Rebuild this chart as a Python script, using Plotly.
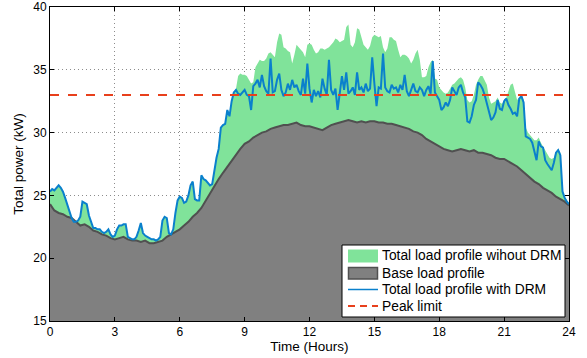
import plotly.graph_objects as go

# Base load profile, 0.2 h steps from 0 to 24 h
base_load = [
    24.3, 23.8, 23.6, 23.5, 23.3, 23.2, 22.9, 22.6, 22.7, 22.5,
    22.2, 22.1, 21.9, 21.8, 21.6, 21.5, 21.6, 21.7, 21.5, 21.4,
    21.4, 21.3, 21.4, 21.2, 21.2, 21.3, 21.4, 21.7, 21.9, 22.1,
    22.3, 22.6, 22.9, 23.3, 23.6, 24.0, 24.6, 25.2, 25.7, 26.3,
    26.8, 27.3, 27.8, 28.3, 28.7, 29.1, 29.3, 29.6, 29.8, 30.0,
    30.1, 30.3, 30.4, 30.5, 30.6, 30.6, 30.7, 30.8, 30.6, 30.5,
    30.5, 30.4, 30.3, 30.2, 30.4, 30.6, 30.7, 30.8, 30.9, 31.0,
    30.9, 30.8, 30.9, 30.8, 30.9, 30.9, 30.8, 30.8, 30.7, 30.7,
    30.6, 30.5, 30.4, 30.3, 30.1, 30.0, 29.8, 29.5, 29.3, 29.1,
    28.9, 28.7, 28.6, 28.5, 28.6, 28.7, 28.6, 28.5, 28.6, 28.4,
    28.4, 28.3, 28.2, 28.0, 27.9, 27.9, 27.7, 27.5, 27.3, 27.0,
    26.7, 26.4, 26.1, 25.9, 25.6, 25.4, 25.2, 24.9, 24.7, 24.5,
    24.2,
]

# Total load with DRM, 0.1 h steps from 0 to 24 h
with_drm = [
    25.3, 25.5, 25.4, 25.6, 25.8, 25.6, 25.3, 24.8, 24.2, 23.6,
    23.2, 22.9, 22.9, 23.0, 23.3, 24.5, 24.4, 24.3, 23.4, 22.8,
    22.4, 22.4, 22.3, 22.3, 22.1, 22.0, 22.1, 22.3, 21.9, 21.7,
    21.8, 22.3, 22.6, 22.6, 22.7, 22.7, 21.7, 21.6, 21.5, 21.5,
    21.7, 22.2, 22.8, 22.0, 21.8, 21.7, 21.6, 21.5, 21.5, 21.4,
    21.5, 21.7, 23.0, 23.3, 23.2, 22.0, 21.9, 22.3, 23.6, 24.6,
    24.9, 24.8, 24.4, 24.5, 25.0, 25.8, 26.1, 24.7, 24.6, 24.6,
    26.6, 26.3, 26.2, 26.0, 25.8, 25.9, 27.0, 28.0, 28.7, 30.4,
    30.6, 30.7, 31.8, 31.3, 32.5, 33.2, 33.4, 33.1, 33.0, 33.2,
    33.4, 33.0, 32.9, 31.8, 33.7, 33.9, 34.2, 33.6, 34.6, 33.7,
    33.3, 33.1, 35.9, 33.2, 33.3, 34.2, 34.7, 33.4, 32.9, 33.2,
    33.9, 33.4, 34.2, 33.6, 33.8, 33.3, 33.0, 34.3, 33.1, 35.5,
    33.5, 32.4, 33.4, 32.9, 33.3, 32.8, 34.3, 33.5, 33.0, 35.8,
    33.4, 33.0, 33.5, 31.8, 33.2, 34.5, 33.4, 34.8, 33.1, 33.3,
    33.6, 33.0, 34.8, 33.4, 33.6, 33.2, 33.9, 33.3, 33.5, 36.0,
    33.9, 32.1, 33.6, 33.5, 36.3, 33.6, 33.3, 33.2, 33.8, 33.5,
    33.6, 33.2, 33.8, 33.4, 34.6, 33.3, 32.9, 33.4, 33.9, 33.3,
    33.2, 33.6, 33.4, 32.9, 33.4, 33.7, 33.1, 35.7, 33.2, 32.9,
    32.6, 31.8, 32.0, 32.4, 32.1, 32.6, 33.6, 33.3, 33.0, 33.6,
    33.8, 33.2, 32.8, 30.9, 30.8, 31.3, 32.2, 32.6, 34.0, 33.8,
    33.5, 33.0, 32.3, 31.8, 31.0, 31.2, 31.6, 32.6, 31.9, 31.8,
    32.5, 32.7, 32.2, 31.9, 31.5, 31.6, 31.3, 32.7, 32.9, 32.4,
    29.7, 29.6, 29.5, 29.2, 28.4, 27.8, 29.3, 28.9, 28.8, 27.8,
    27.5, 27.2, 27.0, 27.6, 28.4, 28.6, 28.2, 25.3, 24.8, 24.5,
    24.3,
]

# Total load without DRM, 0.1 h steps from 0 to 24 h
without_drm = [
    25.3, 25.5, 25.4, 25.6, 25.8, 25.6, 25.3, 24.8, 24.2, 23.6,
    23.2, 22.9, 22.9, 23.0, 23.3, 24.5, 24.4, 24.3, 23.4, 22.8,
    22.4, 22.4, 22.3, 22.3, 22.1, 22.0, 22.1, 22.3, 21.9, 21.7,
    21.8, 22.3, 22.6, 22.6, 22.7, 22.7, 21.7, 21.6, 21.5, 21.5,
    21.7, 22.2, 22.8, 22.0, 21.8, 21.7, 21.6, 21.5, 21.5, 21.4,
    21.5, 21.7, 23.0, 23.3, 23.2, 22.0, 21.9, 22.3, 23.6, 24.6,
    24.9, 24.8, 24.4, 24.5, 25.0, 25.8, 26.1, 24.7, 24.6, 24.6,
    26.6, 26.3, 26.2, 26.0, 25.8, 25.9, 27.0, 28.0, 28.7, 30.4,
    30.6, 30.7, 31.8, 31.3, 32.5, 33.2, 33.5, 34.5, 34.7, 34.6,
    34.6, 34.5, 34.2, 33.9, 34.0, 35.2, 35.5, 35.8, 35.7, 35.7,
    35.9, 36.3, 36.4, 36.2, 36.0, 37.2, 37.9, 37.8, 36.8, 36.7,
    36.5, 36.4, 35.5, 36.2, 37.0, 36.8, 36.6, 36.4, 36.0, 37.0,
    37.1, 37.0, 36.6, 36.3, 36.4, 36.7, 36.7, 36.6, 36.7, 36.8,
    37.0, 37.2, 37.5, 37.4, 37.2, 37.3, 37.4, 38.4, 38.6, 37.0,
    36.8, 37.2, 38.3, 38.2, 37.5, 37.0, 36.8, 36.6, 36.9, 37.6,
    37.8, 37.7, 37.6, 37.7, 36.8, 36.4, 36.7, 37.6, 37.6, 37.4,
    37.3, 36.6, 36.0, 36.2, 36.2, 36.1, 35.9, 35.5, 35.8, 36.3,
    36.6, 35.8, 34.4, 34.4, 34.5, 35.2, 35.6, 35.8, 34.3, 34.2,
    33.6, 33.4, 33.2, 33.1, 33.2, 33.5, 33.8, 33.9, 34.1, 34.3,
    34.4, 34.2, 33.6, 32.6, 32.4, 32.5, 33.0, 33.8, 34.2, 34.5,
    34.5, 34.2, 33.8, 32.8, 32.3, 32.4, 32.5, 32.8, 32.4, 32.3,
    32.6, 32.8, 33.3, 33.8, 33.9, 33.2, 32.6, 32.8, 33.0, 32.6,
    30.4, 30.0, 29.8, 29.6, 29.4, 29.4, 29.6, 29.2, 28.9, 28.6,
    28.3, 28.0, 27.9, 28.0, 28.5, 28.7, 28.4, 25.5, 24.9, 24.6,
    24.4,
]

peak_limit = 33.0
x_range = [0, 24]
y_range = [15, 40]
x_ticks = [0, 3, 6, 9, 12, 15, 18, 21, 24]
y_ticks = [15, 20, 25, 30, 35, 40]
legend_labels = [
    "Total load profile wihout DRM",
    "Base load profile",
    "Total load profile with DRM",
    "Peak limit",
]

hours_base = [round(i * 0.2, 1) for i in range(len(base_load))]
hours_fine = [round(i * 0.1, 1) for i in range(len(with_drm))]

FONT = "Liberation Sans, Arial, sans-serif"
GREEN = "#80E39A"
GRAY = "#808080"
GRAY_EDGE = "#505050"
BLUE = "#0A80CC"
RED = "#E8401C"

W, H = 587, 358
ML, MR, MT, MB = 50, 18, 7, 37
PW, PH = W - ML - MR, H - MT - MB


def px(xp):
    return (xp - ML) / PW


def py(yp):
    return (H - MB - yp) / PH


fig = go.Figure()
fig.add_trace(go.Scatter(
    x=hours_fine, y=without_drm, mode="lines", fill="tozeroy",
    fillcolor=GREEN, line=dict(color=GREEN, width=0),
    name=legend_labels[0]))
fig.add_trace(go.Scatter(
    x=hours_base, y=base_load, mode="lines", fill="tozeroy",
    fillcolor=GRAY, line=dict(color=GRAY_EDGE, width=2),
    name=legend_labels[1]))
fig.add_trace(go.Scatter(
    x=hours_fine, y=with_drm, mode="lines",
    line=dict(color=BLUE, width=2),
    name=legend_labels[2]))
fig.add_trace(go.Scatter(
    x=x_range, y=[peak_limit, peak_limit], mode="lines",
    line=dict(color=RED, width=2, dash="dash"),
    name=legend_labels[3]))

# Legend box drawn in the lower right, as in the reference
shapes = [
    dict(type="rect", xref="paper", yref="paper",
         x0=px(342), x1=px(565), y0=py(317), y1=py(245),
         fillcolor="white", line=dict(color="black", width=1), layer="above"),
    dict(type="rect", xref="paper", yref="paper",
         x0=px(348), x1=px(378), y0=py(262.5), y1=py(249.5),
         fillcolor=GREEN, line=dict(width=0), layer="above"),
    dict(type="rect", xref="paper", yref="paper",
         x0=px(348.5), x1=px(377.5), y0=py(279), y1=py(267.5),
         fillcolor=GRAY, line=dict(color=GRAY_EDGE, width=1.5), layer="above"),
    dict(type="line", xref="paper", yref="paper",
         x0=px(348), x1=px(378), y0=py(289.5), y1=py(289.5),
         line=dict(color=BLUE, width=1.5), layer="above"),
    dict(type="line", xref="paper", yref="paper",
         x0=px(348), x1=px(378), y0=py(306), y1=py(306),
         line=dict(color=RED, width=2, dash="7px,5px"), layer="above"),
]
label_rows = [256, 273, 289.5, 306]
annotations = [
    dict(text=lab, xref="paper", yref="paper", x=px(380), y=py(yc),
         xanchor="left", yanchor="middle", showarrow=False,
         font=dict(family=FONT, size=13.8, color="black"))
    for lab, yc in zip(legend_labels, label_rows)
]

axis_common = dict(
    showline=True, linecolor="black", linewidth=1, mirror="ticks",
    ticks="inside", ticklen=4, tickcolor="black",
    showgrid=True, gridcolor="#8C8C8C", griddash="1px,3px", gridwidth=1,
    zeroline=False, automargin=False,
    tickfont=dict(family=FONT, size=12, color="black"),
)

fig.update_xaxes(range=x_range, tickvals=x_ticks,
                 title=dict(text="Time (Hours)", standoff=0,
                            font=dict(family=FONT, size=13.5, color="black")),
                 **axis_common)
fig.update_yaxes(range=y_range, tickvals=y_ticks,
                 title=dict(text="Total power (kW)", standoff=6,
                            font=dict(family=FONT, size=13.5, color="black")),
                 **axis_common)

fig.update_layout(
    width=W, height=H,
    margin=dict(l=ML, r=MR, t=MT, b=MB),
    paper_bgcolor="white", plot_bgcolor="white",
    font=dict(family=FONT, size=12, color="black"),
    showlegend=False,
    shapes=shapes,
    annotations=annotations,
)

fig.write_html(
    "out.html",
    config={"displayModeBar": False},
    post_script="document.body.style.margin='0';document.body.style.overflow='hidden';",
)
